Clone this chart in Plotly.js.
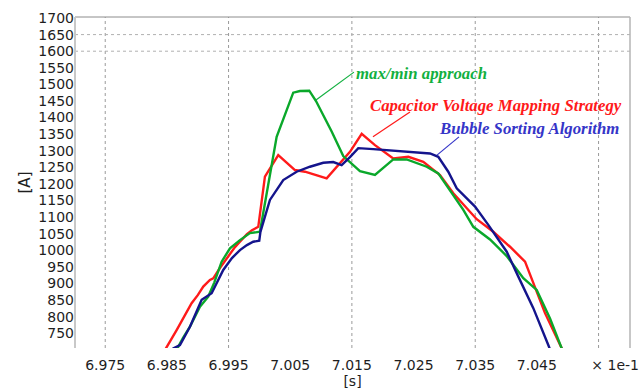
<!DOCTYPE html>
<html>
<head>
<meta charset="utf-8">
<script src="https://cdn.plot.ly/plotly-3.0.1.min.js"></script>
<style>html,body{margin:0;padding:0;background:#fff;}#chart{width:640px;height:392px;}</style>
</head>
<body>
<div id="chart"></div>
<script>
// ---- data (time in ×1e-1 s, current in A) ----
const redT = [6.98436,6.98485,6.98658,6.98777,6.98901,6.99004,6.9909,6.99198,6.99252,6.9936,6.99495,6.99604,6.99685,6.99798,6.9988,6.99982,7.0009,7.00306,7.00577,7.00739,7.01091,7.01307,7.01469,7.01659,7.01874,7.02171,7.02415,7.02658,7.02929,7.03145,7.03362,7.03524,7.03793,7.04064,7.04308,7.04497,7.04632,7.04903,7.04956];
const redA = [679,705,760,802,841,866,891,911,916,947,981,1010,1026,1049,1061,1071,1222,1287,1242,1237,1217,1262,1297,1351,1317,1277,1282,1267,1227,1172,1127,1094,1056,1011,966,876,811,705,682];

const greenT = [6.98647,6.98684,6.9876,6.98874,6.99036,6.99171,6.99268,6.99388,6.99523,6.99685,6.99847,7.00009,7.0028,7.00549,7.00658,7.00809,7.00918,7.01172,7.0136,7.01469,7.01631,7.01874,7.02171,7.02389,7.02713,7.02901,7.03091,7.03307,7.03469,7.0374,7.04011,7.0428,7.04497,7.04713,7.04903,7.04956];
const greenA = [682,710,736,770,830,861,903,966,1006,1031,1052,1056,1342,1475,1480,1481,1450,1358,1284,1265,1239,1227,1274,1274,1252,1232,1182,1122,1071,1033,983,916,881,795,705,682];

const blueT = [6.98517,6.98603,6.98712,6.98874,6.99064,6.99226,6.99414,6.99555,6.99685,6.99798,6.999,6.99998,7.00017,7.00171,7.00387,7.00604,7.0082,7.01036,7.01198,7.01334,7.01469,7.01604,7.01847,7.02227,7.02551,7.02767,7.02901,7.03063,7.032,7.03388,7.03497,7.03712,7.04011,7.04199,7.04442,7.04685,7.04729];
const blueA = [682,705,715,770,851,871,941,977,1001,1016,1026,1029,1056,1152,1212,1237,1252,1264,1266,1257,1281,1308,1305,1300,1297,1292,1282,1237,1187,1152,1132,1077,996,921,826,715,694];

const seriesNames = ["Capacitor Voltage Mapping Strategy","max/min approach","Bubble Sorting Algorithm"];

const xTickVals = [6.975,6.985,6.995,7.005,7.015,7.025,7.035,7.045,7.0577];
const xTickText = ["6.975","6.985","6.995","7.005","7.015","7.025","7.035","7.045","× 1e-1"];
const xGrid = [6.975,6.995,7.015,7.035,7.055];
const yTickVals = [750,800,850,900,950,1000,1050,1100,1150,1200,1250,1300,1350,1400,1450,1500,1550,1600,1650,1700];
const yGrid = [1600,1650];

// ---- styling ----
const cRed = '#ff1a1a', cGreen = '#0aa82a', cBlue = '#14148c';
const tRed = '#ff1a1a', tGreen = '#12b040', tBlue = '#3535c8';

const traces = [
  {x: redT, y: redA, name: seriesNames[0], mode: 'lines', line: {color: cRed, width: 2.4}},
  {x: greenT, y: greenA, name: seriesNames[1], mode: 'lines', line: {color: cGreen, width: 2.4}},
  {x: blueT, y: blueA, name: seriesNames[2], mode: 'lines', line: {color: cBlue, width: 2.4}}
];

const shapes = [];
xGrid.forEach(v => shapes.push({type:'line', layer:'below', xref:'x', yref:'paper', x0:v, x1:v, y0:0, y1:1, line:{color:'#9a9a9a', width:1, dash:'dot'}}));
yGrid.forEach(v => shapes.push({type:'line', layer:'below', xref:'paper', yref:'y', x0:0, x1:1, y0:v, y1:v, line:{color:'#b0b0b0', width:1, dash:'dot'}}));
// frame: top, right, left
shapes.push({type:'line', xref:'paper', yref:'paper', x0:0, x1:1, y0:1, y1:1, line:{color:'#8c8c8c', width:1}});
shapes.push({type:'line', xref:'paper', yref:'paper', x0:1, x1:1, y0:0, y1:1, line:{color:'#b4b4b4', width:1.5}});
shapes.push({type:'line', xref:'paper', yref:'paper', x0:0, x1:0, y0:0, y1:1, line:{color:'#c8c8c8', width:2}});
// leader lines
shapes.push({type:'line', xref:'x', yref:'y', x0:7.00918, y0:1453, x1:7.01534, y1:1537, line:{color:tGreen, width:1.2}});
shapes.push({type:'line', xref:'x', yref:'y', x0:7.01842, y0:1342, x1:7.02442, y1:1417, line:{color:tRed, width:1.2}});
shapes.push({type:'line', xref:'x', yref:'y', x0:7.0288, y0:1287, x1:7.03237, y1:1342, line:{color:tBlue, width:1.2}});

const annFont = (c) => ({family:'Liberation Serif, Times New Roman, serif', size:16.8, color:c, weight:'bold', style:'italic'});
const annotations = [
  {xref:'x', yref:'y', x:7.0154, y:1534, text:'<b><i>' + seriesNames[1] + '</i></b>', showarrow:false, xanchor:'left', yanchor:'middle', font:annFont(tGreen)},
  {xref:'x', yref:'y', x:7.0176, y:1435, text:'<b><i>' + seriesNames[0] + '</i></b>', showarrow:false, xanchor:'left', yanchor:'middle', font:annFont(tRed)},
  {xref:'x', yref:'y', x:7.0288, y:1366, text:'<b><i>' + seriesNames[2] + '</i></b>', showarrow:false, xanchor:'left', yanchor:'middle', font:annFont(tBlue)}
];

const layout = {
  width: 640, height: 392,
  margin: {l: 75, r: 10, t: 17, b: 44, pad: 0},
  paper_bgcolor: '#fff', plot_bgcolor: '#fff',
  showlegend: false,
  font: {family: 'DejaVu Sans, Verdana, sans-serif', size: 14, color: '#1e1e1e'},
  xaxis: {
    range: [6.9701, 7.0601], tickmode: 'array', tickvals: xTickVals, ticktext: xTickText,
    showgrid: false, zeroline: false, showline: false, ticks: '', ticklabelstandoff: 7,
    tickfont: {size: 14, color: '#1e1e1e'},
    title: {text: '[s]', font: {size: 14, color: '#1e1e1e'}, standoff: 1}
  },
  yaxis: {
    range: [706, 1703], tickmode: 'array', tickvals: yTickVals,
    showgrid: false, zeroline: false, showline: false, ticks: '',
    tickfont: {size: 14, color: '#1e1e1e'},
    title: {text: '[A]', font: {size: 15, color: '#1e1e1e'}, standoff: 4}
  },
  shapes: shapes,
  annotations: annotations
};

Plotly.newPlot('chart', traces, layout, {staticPlot: true, displayModeBar: false});
</script>
</body>
</html>
